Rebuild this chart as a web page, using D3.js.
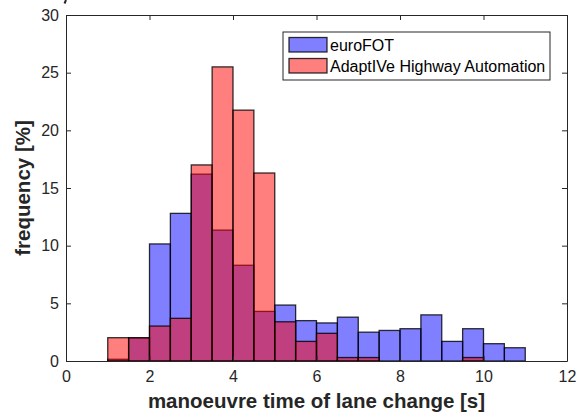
<!DOCTYPE html>
<html>
<head>
<meta charset="utf-8">
<script src="https://cdn.jsdelivr.net/npm/d3@7"></script>
<style>
  body { margin: 0; background: #fff; }
  svg { display: block; font-family: "Liberation Sans", Arial, sans-serif; }
</style>
</head>
<body>
<svg id="graph" width="582" height="415"></svg>
<script>
// bordes de los bins (ancho 0.5 s)
var binStart = [1, 1.5, 2, 2.5, 3, 3.5, 4, 4.5, 5, 5.5, 6, 6.5, 7, 7.5, 8, 8.5, 9, 9.5, 10, 10.5];
var binWidth = 0.5;
// frecuencias [%]
var euroFOT = [0.15, 2.0, 10.15, 12.8, 16.2, 11.35, 8.3, 4.3, 4.85, 3.5, 3.3, 3.8, 2.5, 2.65, 2.8, 4.0, 1.7, 2.8, 1.5, 1.15];
var adaptive = [2.02, 2.02, 3.03, 3.7, 17.0, 25.5, 21.75, 16.3, 3.4, 1.7, 2.4, 0.3, 0.3, 0, 0, 0, 0, 0.3, 0, 0];
var xTicks = [0, 2, 4, 6, 8, 10, 12];
var yTicks = [0, 5, 10, 15, 20, 25, 30];
var seriesNames = ["euroFOT", "AdaptIVe Highway Automation"];
var seriesColors = ["#0000ff", "#ff0000"];

var svg = d3.select("#graph");
var margin = { top: 15, right: 15, bottom: 54, left: 66 };
var width = +svg.attr("width") - margin.left - margin.right;
var height = +svg.attr("height") - margin.top - margin.bottom;
var g = svg.append("g").attr("transform", "translate(" + margin.left + "," + margin.top + ")");

var x = d3.scaleLinear().domain([0, 12]).range([0, width]);
var y = d3.scaleLinear().domain([0, 30]).range([height, 0]);

// resto de un titulo cortado arriba (solo se ve un trazo)
svg.append("path")
    .attr("d", "M66,0 L64.5,3.5")
    .attr("stroke", "#262626").attr("stroke-width", 2).attr("fill", "none");

// barras: primero euroFOT, luego AdaptIVe encima
[euroFOT, adaptive].forEach(function (serie, k) {
    g.append("g")
        .selectAll("rect")
        .data(serie.map((v, i) => ({ x0: binStart[i], v: v })).filter(d => d.v > 0))
        .enter().append("rect")
        .attr("x", d => x(d.x0))
        .attr("width", d => x(d.x0 + binWidth) - x(d.x0))
        .attr("y", d => y(d.v))
        .attr("height", d => y(0) - y(d.v))
        .attr("fill", seriesColors[k])
        .attr("fill-opacity", 0.5)
        .attr("stroke", "#000")
        .attr("stroke-opacity", 0.8)
        .attr("stroke-width", 1.3);
});

// ejes estilo matlab, ticks hacia adentro, caja completa
var axisColor = "#262626";
var xb = g.append("g").attr("transform", "translate(0," + height + ")")
    .call(d3.axisBottom(x).tickValues(xTicks).tickSizeInner(-5).tickSizeOuter(0).tickPadding(10));
var xt = g.append("g")
    .call(d3.axisTop(x).tickValues(xTicks).tickSizeInner(-5).tickSizeOuter(0).tickFormat(""));
var yl = g.append("g")
    .call(d3.axisLeft(y).tickValues(yTicks).tickSizeInner(-5).tickSizeOuter(0).tickPadding(7));
var yr = g.append("g").attr("transform", "translate(" + width + ",0)")
    .call(d3.axisRight(y).tickValues(yTicks).tickSizeInner(-5).tickSizeOuter(0).tickFormat(""));
[xb, xt, yl, yr].forEach(function (a) {
    a.selectAll("path, line").attr("stroke", axisColor);
    a.selectAll("text").attr("fill", axisColor).style("font-size", "16px")
        .style("font-family", "'Liberation Sans', Arial, sans-serif");
});

// labels de los ejes
svg.append("text")
    .attr("x", margin.left + width / 2)
    .attr("y", 408)
    .style("text-anchor", "middle")
    .style("font-size", "20.5px").style("font-weight", "bold").style("fill", axisColor)
    .text("manoeuvre time of lane change [s]");
svg.append("text")
    .attr("transform", "translate(30," + (margin.top + height / 2) + ") rotate(-90)")
    .style("text-anchor", "middle")
    .style("font-size", "20.5px").style("font-weight", "bold").style("fill", axisColor)
    .text("frequency [%]");

// leyenda
var leg = svg.append("g").attr("transform", "translate(283,32)");
leg.append("rect")
    .attr("width", 267).attr("height", 48)
    .attr("fill", "#fff").attr("stroke", "#262626").attr("stroke-width", 1);
var items = leg.selectAll(".legend").data(seriesNames).enter().append("g")
    .attr("class", "legend")
    .attr("transform", (d, i) => "translate(6," + (5.5 + i * 21) + ")");
items.append("rect")
    .attr("width", 38).attr("height", 14.5)
    .attr("fill", (d, i) => seriesColors[i]).attr("fill-opacity", 0.5)
    .attr("stroke", "#000").attr("stroke-opacity", 0.8).attr("stroke-width", 1.3);
items.append("text")
    .attr("x", 41).attr("y", 7.5).attr("dy", "0.35em")
    .style("font-size", "16px").style("fill", "#000")
    .text(d => d);
</script>
</body>
</html>
